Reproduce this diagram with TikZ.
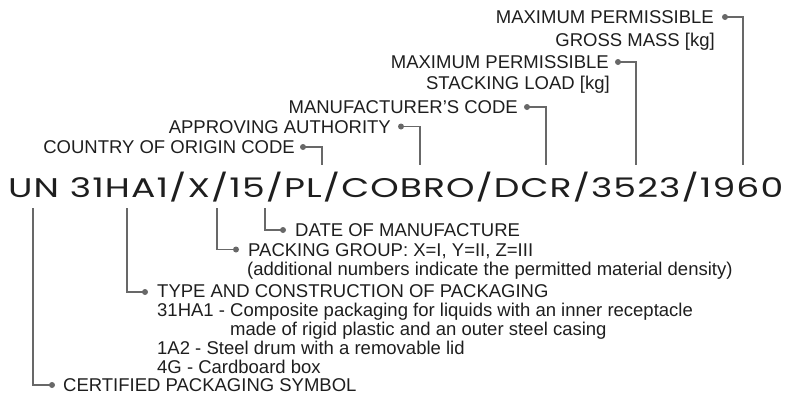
\documentclass[tikz,border=0pt]{standalone}
\usepackage{fontspec}
\setmainfont{Liberation Sans}
\newfontfamily\codefont[LetterSpace=3]{Poppins}
\definecolor{txt}{HTML}{1E1E1E}
\definecolor{lin}{HTML}{686868}
\begin{document}
\begin{tikzpicture}[x=1pt,y=-1pt,
  lbl/.style={inner sep=0pt,text=txt,font=\fontsize{18.5}{20}\selectfont},
  lblr/.style={lbl,anchor=base east},
  lbll/.style={lbl,anchor=base west},
  dot/.style={circle,fill=lin,inner sep=0pt,minimum size=6pt},
  conn/.style={draw=lin,line width=1.7pt}]
\useasboundingbox (0,0) rectangle (788,394);
% code
\node[inner sep=0pt,anchor=base west,text=txt,font=\codefont\fontsize{27}{30}\selectfont] (code) at (8,197) {\resizebox{775pt}{\height}{UN 31HA1/X/15/PL/COBRO/DCR/3523/1960}};
% upper labels
\node[lblr] (l5a) at (714,23.5) {MAXIMUM PERMISSIBLE};
\node[lblr] (l5b) at (715,46.5) {GROSS MASS [kg]};
\node[lblr] (l4a) at (609,68.5) {MAXIMUM PERMISSIBLE};
\node[lblr] (l4b) at (610,89.5) {STACKING LOAD [kg]};
\node[lblr] (l3) at (518,113.5) {MANUFACTURER’S CODE};
\node[lblr] (l2) at (391,133) {APPROVING AUTHORITY};
\node[lblr] (l1) at (295,153.5) {COUNTRY OF ORIGIN CODE};
% upper dots
\node[dot] (d5) at (725,17) {};
\node[dot] (d4) at (618,62) {};
\node[dot] (d3) at (527,107) {};
\node[dot] (d2) at (401,126.5) {};
\node[dot] (d1) at (303,147) {};
\coordinate (e5) at (743,165);
\coordinate (e4) at (636,165);
\coordinate (e3) at (546,165);
\coordinate (e2) at (420,165);
\coordinate (e1) at (322,165);
\foreach \i in {1,...,5} \draw[conn] (d\i.center) -| (e\i);
% lower labels
\node[lbll] (m4) at (295,236.5) {DATE OF MANUFACTURE};
\node[lbll] (m3a) at (248,256.5) {PACKING GROUP: X=I, Y=II, Z=III};
\node[lbll] (m3b) at (247,275.5) {(additional numbers indicate the permitted material density)};
\node[lbll] (m2a) at (157,297.5) {TYPE AND CONSTRUCTION OF PACKAGING};
\node[lbll] (m2b) at (157,316.5) {31HA1 - Composite packaging for liquids with an inner receptacle};
\node[lbll] (m2c) at (230,335.5) {made of rigid plastic and an outer steel casing};
\node[lbll] (m2d) at (157,354.5) {1A2 - Steel drum with a removable lid};
\node[lbll] (m2e) at (157,373.5) {4G - Cardboard box};
\node[lbll] (m1) at (63,391.5) {CERTIFIED PACKAGING SYMBOL};
% lower dots
\node[dot] (g4) at (283,230) {};
\node[dot] (g3) at (236,249.5) {};
\node[dot] (g2) at (145,292) {};
\node[dot] (g1) at (52,385) {};
\coordinate (s4) at (265,208);
\coordinate (s3) at (217,208);
\coordinate (s2) at (127,208);
\coordinate (s1) at (33,208);
\foreach \i in {1,...,4} \draw[conn] (s\i) |- (g\i.center);
\end{tikzpicture}
\end{document}
